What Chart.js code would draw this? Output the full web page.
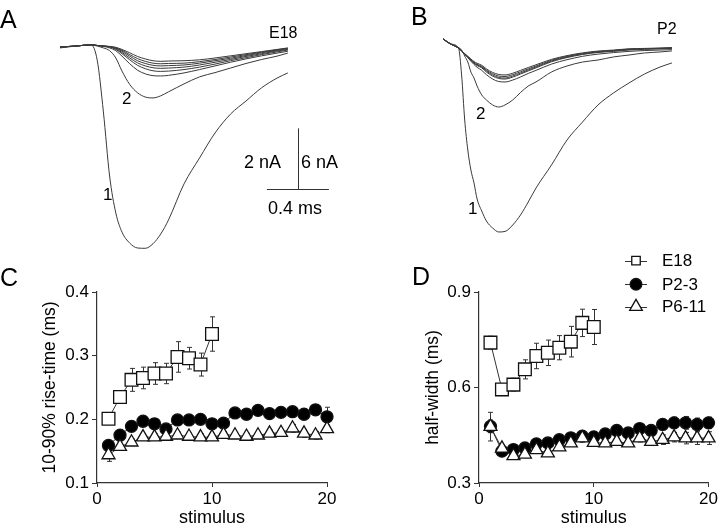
<!DOCTYPE html>
<html>
<head>
<meta charset="utf-8">
<script src="https://cdn.jsdelivr.net/npm/chart.js@4.4.1/dist/chart.umd.min.js"></script>
<style>
  body { margin: 0; background: #fff; }
  #fig { position: relative; width: 720px; height: 530px; overflow: hidden; font-family: "Liberation Sans", Arial, sans-serif; color: #000; }
  #fig canvas { position: absolute; }
  .lbl { position: absolute; line-height: 1; white-space: nowrap; }
</style>
</head>
<body>
<div id="fig">
  <canvas id="chartA" width="360" height="265" style="left:0;top:0"></canvas>
  <canvas id="chartB" width="360" height="250" style="left:360px;top:0"></canvas>
  <canvas id="chartC" width="360" height="265" style="left:0;top:265px"></canvas>
  <canvas id="chartD" width="360" height="280" style="left:360px;top:250px"></canvas>

  <div class="lbl" style="left:0;top:7px;font-size:25px">A</div>
  <div class="lbl" style="left:411px;top:4px;font-size:25px">B</div>
  <div class="lbl" style="left:0;top:265px;font-size:25px">C</div>
  <div class="lbl" style="left:412px;top:264px;font-size:25px">D</div>

  <div class="lbl" style="left:269px;top:25px;font-size:16px">E18</div>
  <div class="lbl" style="left:657px;top:21px;font-size:16px">P2</div>
  <div class="lbl" style="left:103px;top:186px;font-size:17px">1</div>
  <div class="lbl" style="left:122px;top:90px;font-size:17px">2</div>
  <div class="lbl" style="left:468px;top:200px;font-size:17px">1</div>
  <div class="lbl" style="left:476px;top:105px;font-size:17px">2</div>
  <div class="lbl" style="left:244px;top:153px;font-size:18px">2 nA</div>
  <div class="lbl" style="left:301px;top:153px;font-size:18px">6 nA</div>
  <div class="lbl" style="left:268px;top:199px;font-size:18px">0.4 ms</div>
</div>

<script>
// Traces A (E18), time in ms, current in nA
const timeA = [0, 0.1, 0.2, 0.24, 0.28, 0.32, 0.36, 0.4, 0.45, 0.5, 0.55, 0.6, 0.65, 0.7, 0.8, 0.9, 1.0, 1.1, 1.2, 1.3, 1.4, 1.47];
const traceA1 = [-0.03, 0.03, 0.07, -0.43, -2.13, -4.23, -5.44, -6.07, -6.43, -6.59, -6.6, -6.45, -6.13, -5.67, -4.49, -3.64, -2.82, -2.2, -1.77, -1.34, -1.02, -0.85];
const traceA2 = [0, 0.03, 0.07, 0.03, -0.03, -0.12, -0.36, -0.79, -1.23, -1.5, -1.64, -1.67, -1.6, -1.47, -1.21, -0.98, -0.84, -0.69, -0.54, -0.41, -0.3, -0.2];
const traceA3 = [0, 0.03, 0.07, 0.05, 0.02, -0.03, -0.12, -0.3, -0.55, -0.76, -0.88, -0.94, -0.95, -0.93, -0.85, -0.74, -0.62, -0.5, -0.39, -0.29, -0.2, -0.14];
const traceA4 = [0, 0.03, 0.07, 0.05, 0.03, 0, -0.08, -0.22, -0.42, -0.6, -0.71, -0.78, -0.8, -0.79, -0.74, -0.66, -0.56, -0.45, -0.35, -0.25, -0.16, -0.1];
const traceA5 = [0, 0.03, 0.07, 0.05, 0.03, 0.01, -0.06, -0.18, -0.36, -0.52, -0.62, -0.68, -0.7, -0.69, -0.66, -0.59, -0.5, -0.41, -0.31, -0.22, -0.13, -0.08];
const traceA6 = [0, 0.03, 0.07, 0.05, 0.03, 0.01, -0.04, -0.14, -0.3, -0.45, -0.54, -0.6, -0.62, -0.61, -0.59, -0.53, -0.45, -0.37, -0.28, -0.19, -0.11, -0.06];
const traceA7 = [0, 0.03, 0.07, 0.05, 0.03, 0.01, -0.03, -0.11, -0.25, -0.38, -0.47, -0.53, -0.55, -0.54, -0.53, -0.48, -0.41, -0.33, -0.25, -0.17, -0.09, -0.04];
const traceA8 = [0, 0.03, 0.07, 0.05, 0.03, 0.02, -0.01, -0.08, -0.19, -0.31, -0.39, -0.45, -0.47, -0.46, -0.45, -0.42, -0.36, -0.29, -0.22, -0.15, -0.08, -0.03];

// Traces B (P2)
const timeB = [0, 0.05, 0.1, 0.12, 0.14, 0.16, 0.18, 0.2, 0.22, 0.25, 0.28, 0.32, 0.36, 0.4, 0.45, 0.5, 0.55, 0.6, 0.7, 0.8, 0.9, 1.0, 1.1, 1.2, 1.3, 1.4, 1.477];
const traceB1 = [0.89, 0.39, 0, -2.65, -7.08, -10.03, -12.0, -13.27, -14.85, -16.03, -17.01, -17.7, -18.09, -18.04, -17.4, -16.42, -15.14, -13.77, -11.5, -9.05, -7.28, -5.6, -4.42, -3.44, -2.56, -1.87, -1.47];
const traceB2 = [0.89, 0.39, 0.05, -0.2, -0.79, -1.38, -2.36, -2.95, -3.74, -4.62, -5.11, -5.6, -5.8, -5.6, -5.11, -4.38, -3.74, -3.34, -2.36, -1.77, -1.38, -1.18, -0.88, -0.69, -0.49, -0.39, -0.29];
const traceB3 = [0.89, 0.39, 0, -0.3, -0.62, -0.95, -1.3, -1.62, -1.9, -2.2, -2.62, -3.05, -3.3, -3.34, -3.15, -2.85, -2.5, -2.2, -1.58, -1.15, -0.82, -0.6, -0.45, -0.33, -0.25, -0.2, -0.16];
const traceB4 = [0.89, 0.39, 0, -0.29, -0.6, -0.9, -1.22, -1.52, -1.73, -1.95, -2.36, -2.76, -3.0, -3.05, -2.86, -2.56, -2.25, -1.95, -1.35, -0.94, -0.64, -0.44, -0.33, -0.2, -0.13, -0.08, -0.04];
const traceB5 = [0.89, 0.39, 0, -0.29, -0.59, -0.88, -1.18, -1.47, -1.67, -1.87, -2.26, -2.65, -2.9, -2.95, -2.75, -2.46, -2.16, -1.87, -1.28, -0.88, -0.59, -0.39, -0.29, -0.15, -0.1, -0.05, 0];
const traceB6 = [0.89, 0.39, 0, -0.28, -0.56, -0.84, -1.12, -1.4, -1.6, -1.8, -2.17, -2.53, -2.76, -2.8, -2.62, -2.34, -2.05, -1.77, -1.2, -0.82, -0.54, -0.35, -0.25, -0.11, -0.07, -0.03, 0.02];
const traceB7 = [0.89, 0.39, 0, -0.27, -0.55, -0.82, -1.08, -1.33, -1.5, -1.7, -2.05, -2.4, -2.6, -2.65, -2.48, -2.2, -1.92, -1.65, -1.12, -0.75, -0.48, -0.3, -0.2, -0.08, -0.04, 0, 0.03];

// Scale bar (drawn in panel A units)
const barMs = 0.4;
const barNa = 2;

// Panels C and D
const stimulus = [1, 2, 3, 4, 5, 6, 7, 8, 9, 10, 11, 12, 13, 14, 15, 16, 17, 18, 19, 20];
const stimulusTicks = [0, 10, 20];
const groups = ["E18", "P2-3", "P6-11"];

const riseE18 = [0.201, 0.235, 0.262, 0.265, 0.272, 0.272, 0.298, 0.296, 0.286, 0.334];
const riseE18Err = [0.004, 0.005, 0.018, 0.017, 0.017, 0.016, 0.024, 0.017, 0.018, 0.027];
const riseP23 = [0.159, 0.175, 0.189, 0.197, 0.193, 0.185, 0.199, 0.199, 0.2, 0.193, 0.194, 0.21, 0.208, 0.214, 0.209, 0.211, 0.212, 0.208, 0.215, 0.204];
const riseP23Err = [0.006, 0.005, 0.005, 0.005, 0.005, 0.005, 0.005, 0.005, 0.005, 0.005, 0.005, 0.006, 0.006, 0.006, 0.006, 0.006, 0.007, 0.007, 0.008, 0.015];
const riseP611 = [0.144, 0.157, 0.164, 0.172, 0.172, 0.173, 0.175, 0.173, 0.172, 0.172, 0.176, 0.175, 0.173, 0.175, 0.178, 0.179, 0.186, 0.178, 0.175, 0.185];
const riseP611Err = [0.01, 0.005, 0.005, 0.005, 0.005, 0.005, 0.005, 0.005, 0.005, 0.005, 0.005, 0.005, 0.005, 0.005, 0.005, 0.005, 0.006, 0.006, 0.006, 0.006];
const riseTicks = [0.1, 0.2, 0.3, 0.4];

const halfE18 = [0.741, 0.594, 0.609, 0.657, 0.699, 0.709, 0.725, 0.744, 0.803, 0.79];
const halfE18Err = [0.02, 0.01, 0.02, 0.03, 0.04, 0.04, 0.038, 0.048, 0.043, 0.055];
const halfP23 = [0.478, 0.4, 0.405, 0.41, 0.423, 0.426, 0.436, 0.442, 0.447, 0.445, 0.454, 0.465, 0.457, 0.471, 0.465, 0.484, 0.489, 0.489, 0.484, 0.489];
const halfP23Err = [0.02, 0.006, 0.006, 0.006, 0.006, 0.006, 0.006, 0.006, 0.006, 0.006, 0.007, 0.008, 0.008, 0.008, 0.008, 0.015, 0.018, 0.02, 0.02, 0.018];
const halfP611 = [0.477, 0.409, 0.385, 0.39, 0.404, 0.394, 0.413, 0.425, 0.441, 0.427, 0.425, 0.43, 0.425, 0.441, 0.43, 0.436, 0.444, 0.441, 0.441, 0.441];
const halfP611Err = [0.045, 0.01, 0.008, 0.008, 0.008, 0.008, 0.008, 0.008, 0.008, 0.008, 0.01, 0.01, 0.01, 0.012, 0.012, 0.015, 0.015, 0.018, 0.02, 0.02];
const halfTicks = [0.3, 0.6, 0.9];

Chart.defaults.font.family = '"Liberation Sans", Arial, sans-serif';
Chart.defaults.color = "#000";

function toPoints(xs, ys) {
  return ys.map((v, i) => ({ x: xs[i], y: v }));
}

// Trace panels: axes hidden, scale set so that ms / nA map onto the figure
function traceChart(id, times, traces, xRange, yRange, plugins) {
  return new Chart(document.getElementById(id), {
    type: "line",
    data: {
      datasets: traces.map((t) => ({
        data: toPoints(times, t),
        borderColor: "#3a3a3a",
        borderWidth: 1,
        pointRadius: 0,
        cubicInterpolationMode: "monotone",
        clip: false,
      })),
    },
    options: {
      responsive: false,
      animation: false,
      layout: { padding: 0 },
      plugins: { legend: { display: false }, tooltip: { enabled: false } },
      scales: {
        x: { type: "linear", display: false, min: xRange[0], max: xRange[1] },
        y: { display: false, min: yRange[0], max: yRange[1] },
      },
    },
    plugins: plugins || [],
  });
}

const scaleBar = {
  id: "scaleBar",
  afterDatasetsDraw(chart) {
    const { ctx, scales: { x, y } } = chart;
    const t0 = 1.535, i0 = -4.666;
    const cx = x.getPixelForValue(t0);
    const cy = y.getPixelForValue(i0);
    ctx.save();
    ctx.strokeStyle = "#333";
    ctx.lineWidth = 1;
    ctx.beginPath();
    ctx.moveTo(Math.round(cx) + 0.5, cy);
    ctx.lineTo(Math.round(cx) + 0.5, y.getPixelForValue(i0 + barNa));
    ctx.moveTo(x.getPixelForValue(t0 - barMs / 2), Math.round(cy) + 0.5);
    ctx.lineTo(x.getPixelForValue(t0 + barMs / 2), Math.round(cy) + 0.5);
    ctx.stroke();
    ctx.restore();
  },
};

traceChart("chartA", timeA,
  [traceA1, traceA2, traceA3, traceA4, traceA5, traceA6, traceA7, traceA8],
  [-60 / 155, 300 / 155], [-218 / 30.5, 47 / 30.5], [scaleBar]);

traceChart("chartB", timeB,
  [traceB1, traceB2, traceB3, traceB4, traceB5, traceB6, traceB7],
  [-83 / 155, 277 / 155], [-202 / 10.17, 48 / 10.17]);

// Error bars under the markers
const errorBars = {
  id: "errorBars",
  beforeDatasetsDraw(chart) {
    const { ctx, scales: { x, y } } = chart;
    ctx.save();
    ctx.strokeStyle = "#333";
    ctx.lineWidth = 1;
    chart.data.datasets.forEach((ds) => {
      ds.data.forEach((p, i) => {
        const e = ds.errors[i];
        const px = Math.round(x.getPixelForValue(p.x)) + 0.5;
        const top = y.getPixelForValue(p.y + e);
        const bot = y.getPixelForValue(p.y - e);
        ctx.beginPath();
        ctx.moveTo(px, top);
        ctx.lineTo(px, bot);
        ctx.moveTo(px - 2.5, top);
        ctx.lineTo(px + 2.5, top);
        ctx.moveTo(px - 2.5, bot);
        ctx.lineTo(px + 2.5, bot);
        ctx.stroke();
      });
    });
    ctx.restore();
  },
};

function drawMarker(ctx, style, x, y, r, fill) {
  ctx.beginPath();
  if (style === "rect") {
    const s = r * Math.SQRT1_2;
    ctx.rect(x - s, y - s, 2 * s, 2 * s);
  } else if (style === "circle") {
    ctx.arc(x, y, r, 0, Math.PI * 2);
  } else {
    ctx.moveTo(x, y - r);
    ctx.lineTo(x + r * 0.866, y + r / 2);
    ctx.lineTo(x - r * 0.866, y + r / 2);
    ctx.closePath();
  }
  ctx.fillStyle = fill;
  ctx.fill();
  ctx.stroke();
}

const legendD = {
  id: "legendD",
  afterDraw(chart) {
    const ctx = chart.ctx;
    const rows = [10.7, 34.3, 56.7];
    const sizes = [6, 5.8, 7.3];
    ctx.save();
    ctx.font = '17px "Liberation Sans", Arial, sans-serif';
    ctx.textBaseline = "middle";
    chart.data.datasets.forEach((ds, i) => {
      const y = rows[i];
      ctx.strokeStyle = "#333";
      ctx.lineWidth = 1;
      ctx.beginPath();
      ctx.moveTo(265, Math.round(y) + 0.5);
      ctx.lineTo(287, Math.round(y) + 0.5);
      ctx.stroke();
      ctx.strokeStyle = "#111";
      ctx.lineWidth = 1.3;
      drawMarker(ctx, ds.pointStyle, 276, y, sizes[i], ds.pointBackgroundColor);
      ctx.fillStyle = "#000";
      ctx.fillText(ds.label, 302, y + 1);
    });
    ctx.restore();
  },
};

function seriesSet(e18, e18Err, p23, p23Err, p611, p611Err) {
  const base = { borderColor: "#333", borderWidth: 1, pointBorderColor: "#111", pointBorderWidth: 1.3, clip: false };
  return [
    { ...base, label: groups[0], data: toPoints(stimulus, e18), errors: e18Err,
      pointStyle: "rect", pointRadius: 9, pointBackgroundColor: "#fff", order: 2 },
    { ...base, label: groups[1], data: toPoints(stimulus, p23), errors: p23Err,
      pointStyle: "circle", pointRadius: 6, pointBackgroundColor: "#000", order: 1 },
    { ...base, label: groups[2], data: toPoints(stimulus, p611), errors: p611Err,
      pointStyle: "triangle", pointRadius: 7.5, pointBackgroundColor: "#fff", order: 0 },
  ];
}

function stimChart(id, datasets, yTicks, yTitle, box, plugins) {
  return new Chart(document.getElementById(id), {
    type: "line",
    data: { datasets: datasets },
    options: {
      responsive: false,
      animation: false,
      layout: { padding: { top: box.top, right: box.right, left: 0, bottom: 0 } },
      plugins: { legend: { display: false }, tooltip: { enabled: false } },
      scales: {
        x: {
          type: "linear",
          min: 0,
          max: 20,
          afterBuildTicks: (s) => { s.ticks = stimulusTicks.map((v) => ({ value: v })); },
          afterFit: (s) => { s.height = 47; },
          grid: { drawOnChartArea: false, drawTicks: true, tickLength: 4, color: "#333" },
          border: { display: true, color: "#333", width: 1.2 },
          ticks: { font: { size: 17 }, padding: 2, maxRotation: 0, callback: (v) => String(v) },
          title: { display: true, text: "stimulus", font: { size: 18 }, padding: { top: 0, bottom: 1 } },
        },
        y: {
          min: yTicks[0],
          max: yTicks[yTicks.length - 1],
          afterBuildTicks: (s) => { s.ticks = yTicks.map((v) => ({ value: v })); },
          afterFit: (s) => { s.width = box.left; },
          grid: { drawOnChartArea: false, drawTicks: true, tickLength: 5, color: "#333" },
          border: { display: true, color: "#333", width: 1.2 },
          ticks: { font: { size: 17 }, padding: 3, callback: (v) => Number(v).toFixed(1) },
          title: { display: true, text: yTitle, font: { size: 17.5 }, padding: { top: box.title, bottom: 0 } },
        },
      },
    },
    plugins: [errorBars].concat(plugins || []),
  });
}

stimChart("chartC",
  seriesSet(riseE18, riseE18Err, riseP23, riseP23Err, riseP611, riseP611Err),
  riseTicks, "10-90% rise-time (ms)",
  { top: 27, right: 33, left: 97, title: 39.5 });

stimChart("chartD",
  seriesSet(halfE18, halfE18Err, halfP23, halfP23Err, halfP611, halfP611Err),
  halfTicks, "half-width (ms)",
  { top: 42, right: 11, left: 119, title: 62.5 }, [legendD]);
</script>
</body>
</html>
